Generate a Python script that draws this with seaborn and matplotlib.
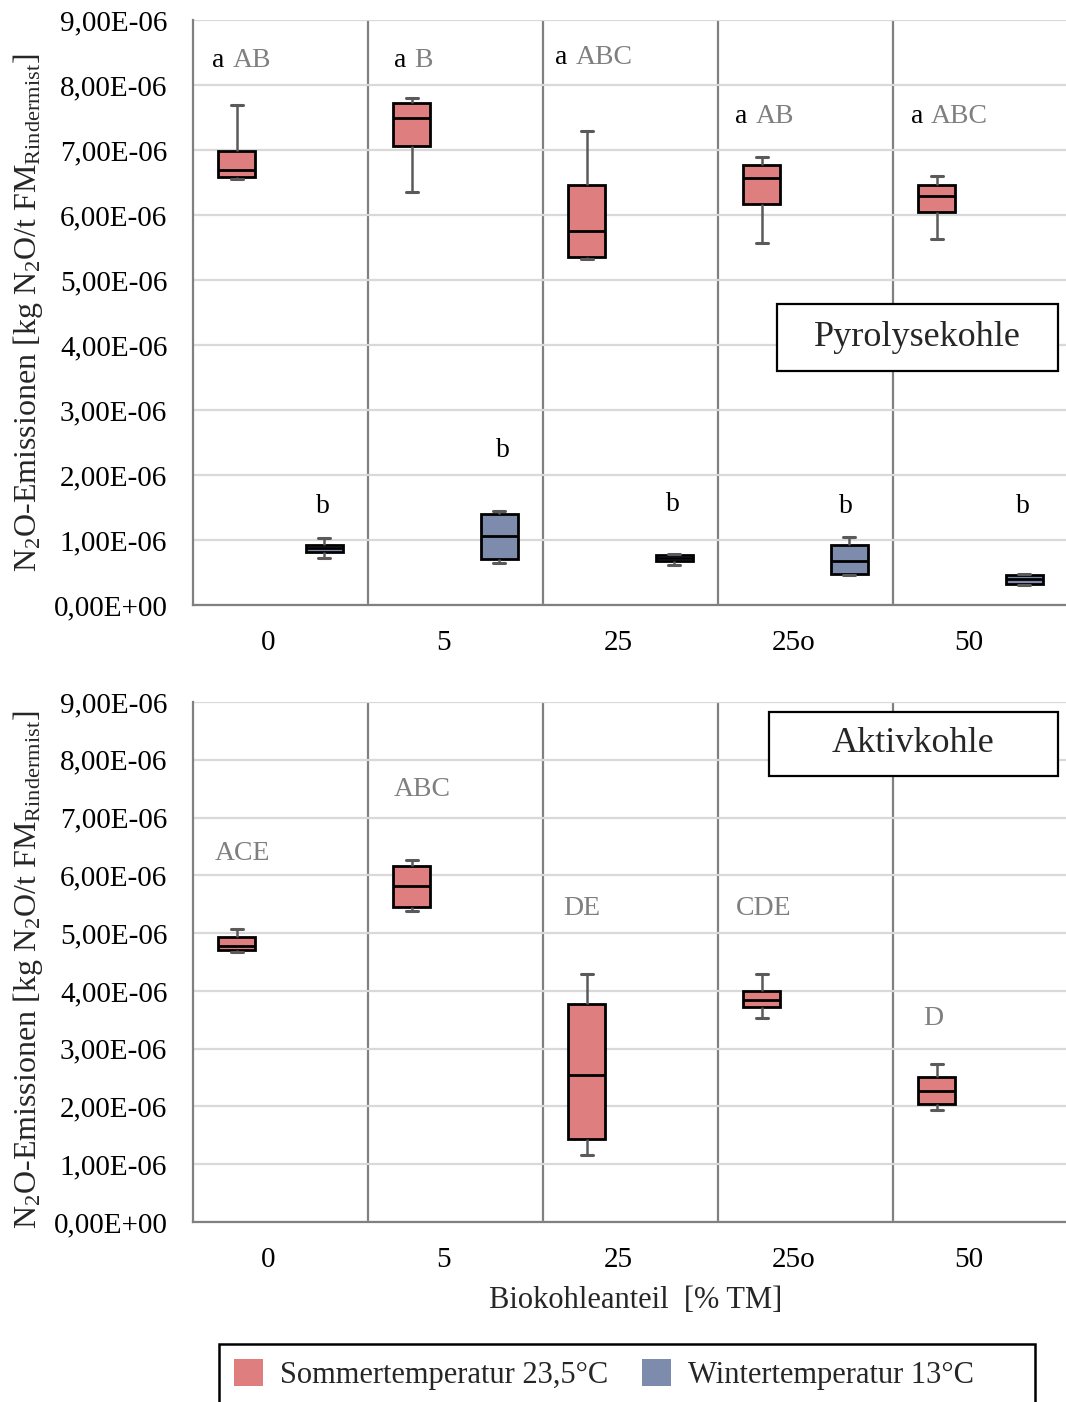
import numpy as np
import pandas as pd
import matplotlib
matplotlib.use("Agg")
import matplotlib.pyplot as plt
import seaborn as sns
from matplotlib.patches import Rectangle, Patch
from matplotlib.ticker import FuncFormatter, MultipleLocator

# ---------------------------------------------------------------------------
# Data (N2O emissions, units of 1e-6 kg N2O / t FM)
# ---------------------------------------------------------------------------
categories = ["0", "5", "25", "25o", "50"]
seasons = ["Sommertemperatur 23,5°C", "Wintertemperatur 13°C"]

# Pyrolysekohle, summer temperature: whisker low, Q1, median, Q3, whisker high
pyro_sommer_min = [6.56, 6.36, 5.33, 5.57, 5.63]
pyro_sommer_q1 = [6.59, 7.06, 5.35, 6.17, 6.04]
pyro_sommer_med = [6.69, 7.50, 5.76, 6.57, 6.30]
pyro_sommer_q3 = [6.99, 7.72, 6.46, 6.77, 6.46]
pyro_sommer_max = [7.70, 7.80, 7.30, 6.89, 6.60]

# Pyrolysekohle, winter temperature
pyro_winter_min = [0.72, 0.64, 0.62, 0.46, 0.30]
pyro_winter_q1 = [0.82, 0.71, 0.67, 0.47, 0.33]
pyro_winter_med = [0.88, 1.06, 0.73, 0.68, 0.40]
pyro_winter_q3 = [0.93, 1.40, 0.77, 0.92, 0.46]
pyro_winter_max = [1.03, 1.44, 0.79, 1.04, 0.47]

# Aktivkohle, summer temperature
aktiv_sommer_min = [4.68, 5.39, 1.16, 3.53, 1.93]
aktiv_sommer_q1 = [4.71, 5.45, 1.44, 3.72, 2.04]
aktiv_sommer_med = [4.77, 5.81, 2.55, 3.84, 2.27]
aktiv_sommer_q3 = [4.93, 6.17, 3.78, 4.00, 2.51]
aktiv_sommer_max = [5.07, 6.26, 4.30, 4.29, 2.73]

# Significance letters
pyro_sommer_letters_lower = ["a", "a", "a", "a", "a"]
pyro_sommer_letters_upper = ["AB", "B", "ABC", "AB", "ABC"]
pyro_winter_letters = ["b", "b", "b", "b", "b"]
aktiv_letters = ["ACE", "ABC", "DE", "CDE", "D"]

# Letter placement (x in category units, y in 1e-6)
pyro_sommer_letter_x = [-0.39, 0.65, 1.57, 2.60, 3.60]
pyro_sommer_letter_y = [8.38, 8.38, 8.42, 7.51, 7.51]
pyro_winter_letter_x = [0.24, 1.27, 2.24, 3.23, 4.24]
pyro_winter_letter_y = [1.51, 2.38, 1.54, 1.51, 1.51]
aktiv_letter_x = [-0.22, 0.81, 1.72, 2.76, 3.73]
aktiv_letter_y = [6.37, 7.49, 5.42, 5.43, 3.53]

SOMMER_COLOR = "#DE7E7E"
WINTER_COLOR = "#7D8CAC"
LETTER_GRAY = "#7F7F7F"
AXIS_GRAY = "#808080"
GRID_GRAY = "#D9D9D9"
WHISKER_GRAY = "#5A5A5A"


def long_frame(season, lows, q1s, meds, q3s, highs):
    rows = []
    for cat, stats in zip(categories, zip(lows, q1s, meds, q3s, highs)):
        for v in stats:
            rows.append({"Anteil": cat, "Temperatur": season, "Wert": v * 1e-6})
    return pd.DataFrame(rows)


df_pyro = pd.concat([
    long_frame(seasons[0], pyro_sommer_min, pyro_sommer_q1, pyro_sommer_med,
               pyro_sommer_q3, pyro_sommer_max),
    long_frame(seasons[1], pyro_winter_min, pyro_winter_q1, pyro_winter_med,
               pyro_winter_q3, pyro_winter_max),
], ignore_index=True)

df_aktiv = long_frame(seasons[0], aktiv_sommer_min, aktiv_sommer_q1,
                      aktiv_sommer_med, aktiv_sommer_q3, aktiv_sommer_max)

# ---------------------------------------------------------------------------
# Style
# ---------------------------------------------------------------------------
sns.set_theme(style="white")
plt.rcParams["font.family"] = ["Liberation Serif", "DejaVu Serif"]
plt.rcParams["mathtext.fontset"] = "custom"
plt.rcParams["mathtext.rm"] = "Liberation Serif"
plt.rcParams["mathtext.it"] = "Liberation Serif:italic"
plt.rcParams["mathtext.bf"] = "Liberation Serif:bold"

W, H = 1066, 1402
fig = plt.figure(figsize=(W / 100, H / 100), dpi=100)

left = 193 / W
width = 875 / W
ax_top = fig.add_axes([left, 1 - 605 / H, width, 585 / H])
ax_bot = fig.add_axes([left, 1 - 1222 / H, width, 520 / H])

palette = {seasons[0]: SOMMER_COLOR, seasons[1]: WINTER_COLOR}
BOX_WIDTH_FULL = 1.0
GAP = 0.58


def draw_boxes(ax, df):
    sns.boxplot(
        data=df, x="Anteil", y="Wert", hue="Temperatur",
        order=categories, hue_order=seasons, palette=palette,
        width=BOX_WIDTH_FULL, gap=GAP, whis=(0, 100), dodge=True,
        saturation=1, linewidth=2.0, linecolor="black", fliersize=0,
        legend=False, ax=ax,
        boxprops=dict(edgecolor="black", linewidth=2.0),
        whiskerprops=dict(color=WHISKER_GRAY, linewidth=1.8),
        capprops=dict(color=WHISKER_GRAY, linewidth=2.2),
        medianprops=dict(color="black", linewidth=2.0),
    )
    # slim caps
    box_w = BOX_WIDTH_FULL / 2 * (1 - GAP)
    cap_half = 6 / 175
    for line in ax.lines:
        x = np.asarray(line.get_xdata(), dtype=float)
        y = np.asarray(line.get_ydata(), dtype=float)
        if len(x) == 2 and y[0] == y[1] and 0 < (x[1] - x[0]) < 0.9 * box_w:
            c = x.mean()
            line.set_xdata([c - cap_half, c + cap_half])


def style_axes(ax):
    ax.set_xlim(-0.5, 4.5)
    ax.set_ylim(0, 9e-6)
    ax.yaxis.set_major_locator(MultipleLocator(1e-6))
    ax.yaxis.set_major_formatter(
        FuncFormatter(lambda v, _: f"{v:.2E}".replace(".", ",")))
    ax.set_xticks(np.arange(len(categories)) - 0.07, categories)
    ax.tick_params(axis="y", length=0, pad=18.5, labelsize=21, labelcolor="black")
    ax.tick_params(axis="x", length=0, pad=18, labelsize=21, labelcolor="black")
    ax.set_xlabel("")
    ax.set_ylabel("")
    ax.yaxis.grid(True, color=GRID_GRAY, linewidth=1.6)
    ax.xaxis.grid(False)
    ax.set_axisbelow(True)
    for side in ("top", "right"):
        ax.spines[side].set_visible(False)
    for side in ("left", "bottom"):
        ax.spines[side].set_color(AXIS_GRAY)
        ax.spines[side].set_linewidth(1.6)
    for xb in np.arange(0.5, len(categories), 1.0):
        ax.axvline(xb, color=AXIS_GRAY, linewidth=1.6, zorder=0.5)


def label_box(ax, text, x0, y0, x1, y1, fontsize):
    ax.add_patch(Rectangle((x0, y0), x1 - x0, y1 - y0, transform=ax.transAxes,
                           facecolor="white", edgecolor="black", linewidth=1.6,
                           zorder=5))
    ax.text((x0 + x1) / 2, (y0 + y1) / 2, text, transform=ax.transAxes,
            ha="center", va="center", fontsize=fontsize, zorder=6)


# ---- Pyrolysekohle --------------------------------------------------------
draw_boxes(ax_top, df_pyro)
style_axes(ax_top)
label_box(ax_top, "Pyrolysekohle", 0.667, 0.400, 0.9886, 0.5145, 26)

for x, y, lo, up in zip(pyro_sommer_letter_x, pyro_sommer_letter_y,
                        pyro_sommer_letters_lower, pyro_sommer_letters_upper):
    ax_top.text(x, y * 1e-6, lo, ha="left", va="center", fontsize=20,
                color="black", zorder=6)
    ax_top.annotate(up, xy=(x, y * 1e-6), xytext=(14.5, 0),
                    textcoords="offset points", ha="left", va="center",
                    fontsize=20, color=LETTER_GRAY, zorder=6)

for x, y, t in zip(pyro_winter_letter_x, pyro_winter_letter_y, pyro_winter_letters):
    ax_top.text(x, y * 1e-6, t, ha="center", va="center", fontsize=20,
                color="black", zorder=6)

# ---- Aktivkohle -----------------------------------------------------------
draw_boxes(ax_bot, df_aktiv)
style_axes(ax_bot)
label_box(ax_bot, "Aktivkohle", 0.658, 0.8577, 0.9886, 0.981, 26)

for x, y, t in zip(aktiv_letter_x, aktiv_letter_y, aktiv_letters):
    ax_bot.text(x, y * 1e-6, t, ha="center", va="center", fontsize=20,
                color=LETTER_GRAY, zorder=6)

# ---- shared labels --------------------------------------------------------
ylabel = r"N$_2$O-Emissionen [kg N$_2$O/t FM$_{\mathrm{Rindermist}}$]"
fig.text(28 / W, 1 - 313 / H, ylabel, rotation=90, ha="center", va="center",
         fontsize=23)
fig.text(28 / W, 1 - 970 / H, ylabel, rotation=90, ha="center", va="center",
         fontsize=23)

fig.text(636 / W, 1 - 1300 / H, "Biokohleanteil  [% TM]", ha="center",
         va="center", fontsize=22)

# legend: frame drawn as its own rectangle running past the lower edge
fig.patches.append(Rectangle((219 / W, 1 - 1420 / H), (1035 - 219) / W,
                             (1420 - 1344) / H, transform=fig.transFigure,
                             facecolor="white", edgecolor="black",
                             linewidth=1.8, zorder=1))
handles = [Patch(facecolor=palette[s], edgecolor="none", label=s) for s in seasons]
leg = fig.legend(handles=handles, loc="upper left",
                 bbox_to_anchor=(219 / W, 1 - 1344 / H), ncol=2, fontsize=22,
                 frameon=False, handlelength=0.95, handleheight=0.95,
                 handletextpad=0.55, columnspacing=1.1, borderpad=0.5,
                 borderaxespad=0)
leg.set_zorder(2)

fig.savefig("out.png", dpi=100, facecolor="white")
